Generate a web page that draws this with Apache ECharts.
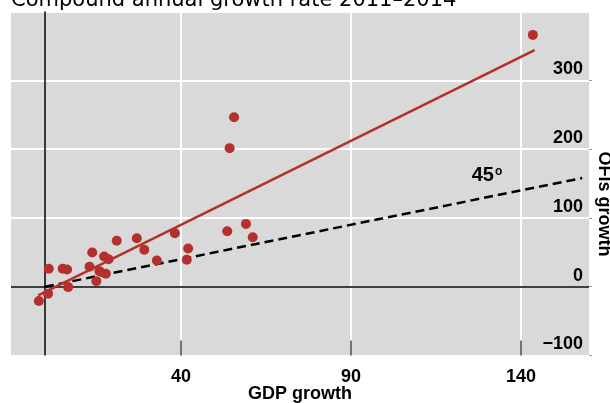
<!DOCTYPE html>
<html>
<head>
<meta charset="utf-8">
<script src="https://cdn.jsdelivr.net/npm/echarts@6/dist/echarts.min.js"></script>
<style>html,body{margin:0;padding:0;background:#fff;}#c{width:610px;height:403px;}</style>
</head>
<body>
<div id="c"></div>
<script>
// GDP growth (x) and OFIs growth (y), compound annual growth rate 2011-2014, %
const gdpGrowth = [-1.8, 0.9, 1.1, 5.2, 6.5, 6.8, 13.9, 13.1, 17.4, 18.7, 16.0, 17.9, 15.1, 21.1, 27.0, 29.2, 32.9, 38.2, 42.1, 41.7, 53.6, 59.1, 61.1, 55.6, 54.3, 143.5];
const ofiGrowth = [-20.9, -10.1, 26.1, 26.1, 25.1, -0.6, 49.7, 29.0, 43.9, 40.0, 22.6, 18.8, 8.1, 66.7, 70.4, 53.6, 38.1, 77.7, 55.5, 39.1, 80.6, 91.3, 71.9, 246.4, 201.4, 366.0];
// fitted regression line end points
const fitX = [-2, 144];
const fitY = [-12.6, 344];
// 45 degree line end points
const diagX = [0, 158];
const diagY = [0, 158];
const xTicks = [40, 90, 140];
const yTicks = [-100, 0, 100, 200, 300, 400];

const FONT = 'Liberation Sans, Arial, sans-serif';
const pts = gdpGrowth.map((x, i) => [x, ofiGrowth[i]]);
const fitLine = fitX.map((x, i) => [x, fitY[i]]);
const diagLine = diagX.map((x, i) => [x, diagY[i]]);

const chart = echarts.init(document.getElementById('c'));
chart.setOption({
  animation: false,
  backgroundColor: '#fff',
  title: {
    text: 'Compound annual growth rate 2011–2014',
    left: 11, top: -10, padding: 0,
    textStyle: { fontFamily: 'DejaVu Sans', fontSize: 21, fontWeight: 'normal', color: '#000' }
  },
  grid: { left: 11, right: 21, top: 11.5, bottom: 47.5, show: true, backgroundColor: '#d9d9d9', borderWidth: 0, containLabel: false, outerBoundsMode: 'none' },
  xAxis: {
    type: 'value', min: -10, max: 160, z: 6,
    splitLine: { show: false },
    axisLine: { show: false, onZero: false },
    axisTick: { show: true, inside: true, length: 15, customValues: xTicks, lineStyle: { color: '#444', width: 1.5 } },
    axisLabel: { customValues: xTicks, margin: 13, fontFamily: FONT, fontSize: 18, fontWeight: 'bold', color: '#000' },
    name: 'GDP growth', nameLocation: 'middle', nameGap: 30, nameMoveOverlap: false,
    nameTextStyle: { fontFamily: FONT, fontSize: 18, fontWeight: 'bold', color: '#000' }
  },
  yAxis: {
    type: 'value', position: 'right', min: yTicks[0], max: yTicks[yTicks.length - 1], interval: 100,
    axisLine: { show: false, onZero: false },
    axisTick: { show: true, length: 3, lineStyle: { color: '#999' } },
    splitLine: { show: true, lineStyle: { color: '#fff', width: 2 } },
    axisLabel: {
      inside: true, margin: 6, verticalAlign: 'bottom', showMaxLabel: false, padding: [0, 0, 2, 0],
      fontFamily: FONT, fontSize: 18, fontWeight: 'bold', color: '#000',
      formatter: v => v < 0 ? '\u2212' + Math.abs(v) : String(v)
    },
    name: 'OFIs growth', nameLocation: 'middle', nameRotate: -90, nameGap: 6, nameMoveOverlap: false,
    nameTextStyle: { fontFamily: FONT, fontSize: 18, fontWeight: 'bold', color: '#000', padding: [0, 0, 0, 41] }
  },
  series: [
    {
      type: 'line', data: [], silent: true, z: 1,
      markLine: {
        silent: true, symbol: 'none', z: 1, label: { show: false },
        lineStyle: { color: '#fff', width: 2, type: 'solid' },
        data: xTicks.map(v => ({ xAxis: v }))
      }
    },
    {
      type: 'line', data: [], silent: true, z: 2,
      markLine: {
        silent: true, symbol: 'none', z: 2, label: { show: false },
        lineStyle: { color: '#000', width: 1.5, type: 'solid' },
        data: [{ xAxis: 0 }, { yAxis: 0 }]
      }
    },
    {
      type: 'line', data: diagLine, z: 3, symbol: 'none', silent: true,
      lineStyle: { color: '#000', width: 2.5, type: [9, 5] },
      markPoint: {
        silent: true, z: 3, symbol: 'circle', symbolSize: 1, itemStyle: { color: 'rgba(0,0,0,0)' },
        label: {
          show: true, position: 'inside',
          formatter: '{a|45}{b|o}',
          rich: {
            a: { fontFamily: FONT, fontSize: 20, fontWeight: 'bold', color: '#000' },
            b: { fontFamily: FONT, fontSize: 12, fontWeight: 'bold', color: '#000', padding: [0, 0, 9, 1] }
          }
        },
        data: [{ coord: [130, 161] }]
      }
    },
    {
      type: 'line', data: fitLine, z: 3, symbol: 'none', silent: true,
      lineStyle: { color: '#b3302c', width: 2.5 }
    },
    {
      type: 'scatter', data: pts, z: 4, symbol: 'circle', symbolSize: 10,
      itemStyle: { color: '#b3302c', opacity: 1 }
    }
  ]
});
</script>
</body>
</html>
